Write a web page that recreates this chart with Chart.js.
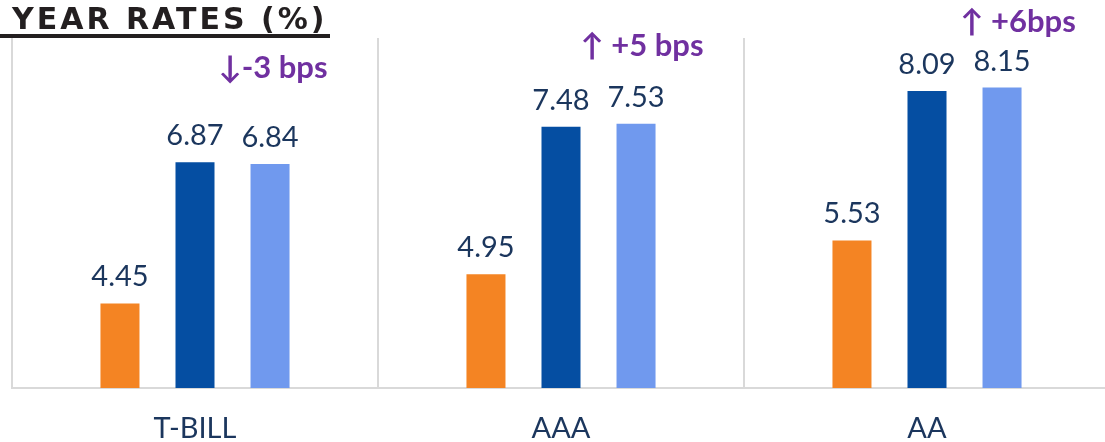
<!DOCTYPE html>
<html>
<head>
<meta charset="utf-8">
<script src="https://cdn.jsdelivr.net/npm/chart.js@4.4.1/dist/chart.umd.min.js"></script>
<style>
    html, body { margin: 0; padding: 0; background: #fff; overflow: hidden; }
    #wrap { position: relative; width: 1110px; height: 442px; }
    .rates-title {
        position: absolute; left: 0; top: 0;
        width: 318px; height: 34px; padding-left: 12px;
        border-bottom: 4px solid #231f20;
        font: bold 30px "DejaVu Sans", sans-serif; letter-spacing: 3px;
        line-height: 38px; color: #231f20; z-index: 2;
        white-space: nowrap;
    }
</style>
</head>
<body>
<div id="wrap">
    <div class="rates-title">YEAR RATES (%)</div>
    <canvas id="ratesChart" width="1110" height="442"></canvas>
</div>
<script>
// ---- data ----
const categories = ['T-BILL', 'AAA', 'AA'];
const seriesOld = [4.45, 4.95, 5.53];
const seriesPrev = [6.87, 7.48, 8.09];
const seriesNow = [6.84, 7.53, 8.15];
const changeNotes = ['↓-3 bps', '↑ +5 bps', '↑ +6bps'];

const COLORS = ['#f48423', '#054ea2', '#7099ee'];
const LABEL_COLOR = '#1b365d';
const NOTE_COLOR = '#7030a0';

// value above every bar
const valueLabels = {
    id: 'valueLabels',
    afterDatasetsDraw(chart) {
        const ctx = chart.ctx;
        ctx.save();
        ctx.font = '29px Lato, sans-serif';
        ctx.fillStyle = LABEL_COLOR;
        ctx.textAlign = 'center';
        ctx.textBaseline = 'alphabetic';
        chart.data.datasets.forEach((ds, i) => {
            chart.getDatasetMeta(i).data.forEach((bar, j) => {
                ctx.fillText(ds.data[j].toFixed(2), bar.x, bar.y - 17);
            });
        });
        ctx.restore();
    }
};

// bps change notes, placed over the last bar of each group
const changeLabels = {
    id: 'changeLabels',
    afterDatasetsDraw(chart) {
        const ctx = chart.ctx;
        const bars = chart.getDatasetMeta(2).data;
        const place = [{ dx: 3, y: 78 }, { dx: 6, y: 56 }, { dx: 16, y: 32 }];
        ctx.save();
        ctx.font = 'bold 31px Lato, sans-serif';
        ctx.fillStyle = NOTE_COLOR;
        ctx.textAlign = 'center';
        ctx.textBaseline = 'alphabetic';
        changeNotes.forEach((txt, j) => {
            ctx.fillText(txt, bars[j].x + place[j].dx, place[j].y);
        });
        ctx.restore();
    }
};

new Chart(document.getElementById('ratesChart'), {
    type: 'bar',
    data: {
        labels: categories,
        datasets: [
            { label: 'Series 1', data: seriesOld, backgroundColor: COLORS[0] },
            { label: 'Series 2', data: seriesPrev, backgroundColor: COLORS[1] },
            { label: 'Series 3', data: seriesNow, backgroundColor: COLORS[2] }
        ]
    },
    options: {
        responsive: false,
        animation: false,
        layout: { padding: { left: 12, top: 38, right: 0, bottom: 0 } },
        datasets: { bar: { categoryPercentage: 0.615, barPercentage: 0.52 } },
        plugins: {
            legend: { display: false },
            tooltip: { enabled: false }
        },
        scales: {
            x: {
                grid: { color: '#d9d9d9', lineWidth: 2, offset: true, drawTicks: false },
                border: { color: '#d9d9d9', width: 2 },
                ticks: {
                    color: LABEL_COLOR,
                    font: { family: 'Lato, sans-serif', size: 29 },
                    padding: 23
                },
                afterFit(scale) { scale.height = 54; }
            },
            y: {
                display: false,
                min: 3,
                max: 9
            }
        }
    },
    plugins: [valueLabels, changeLabels]
});
</script>
</body>
</html>
